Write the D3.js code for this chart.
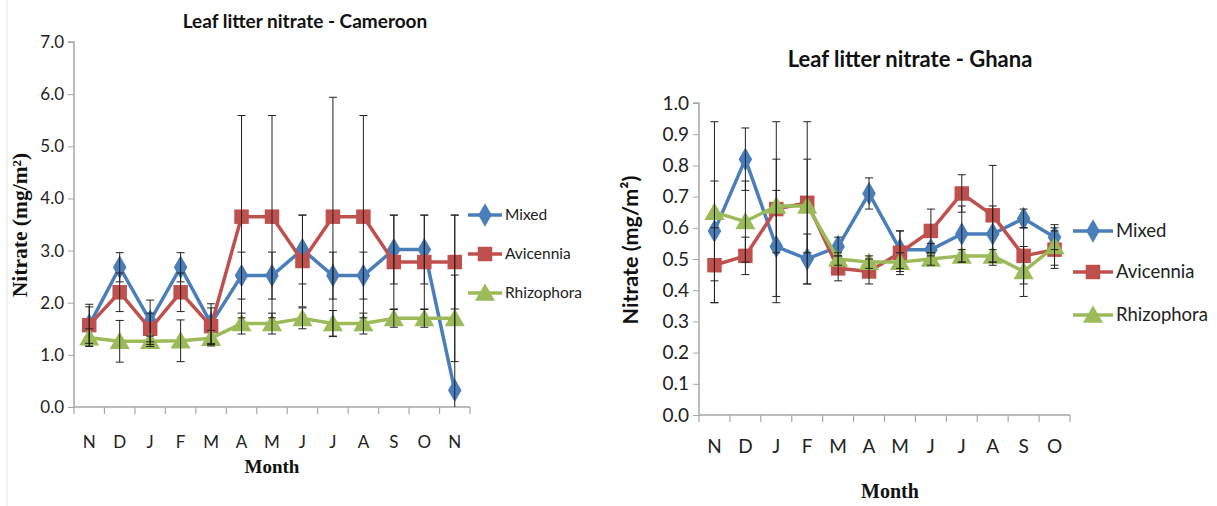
<!DOCTYPE html>
<html><head><meta charset="utf-8">
<script src="https://cdn.jsdelivr.net/npm/d3@7"></script>
<style>body{margin:0;background:#fff}svg{display:block}</style>
</head><body>
<script>
// ---- Data ----
const monthsCam = ["N","D","J","F","M","A","M","J","J","A","S","O","N"];
const camMixed      = [1.57,2.68,1.65,2.68,1.60,2.52,2.52,3.02,2.52,2.52,3.02,3.02,0.32];
const camMixedErr   = [0.40,0.28,0.40,0.28,0.38,0.45,0.45,0.66,0.45,0.45,0.66,0.66,3.36];
const camAvicennia  = [1.57,2.20,1.50,2.20,1.55,3.65,3.65,2.80,3.65,3.65,2.78,2.78,2.78];
const camAvicErr    = [0.35,0.37,0.30,0.37,0.35,1.94,1.94,0.88,2.29,1.94,0.90,0.90,0.90];
const camRhizophora = [1.33,1.26,1.26,1.27,1.32,1.60,1.60,1.70,1.60,1.60,1.70,1.70,1.70];
const camRhizErr    = [0.17,0.40,0.10,0.40,0.15,0.20,0.20,0.20,0.25,0.20,0.17,0.17,0.83];
const camTicks = [0,1,2,3,4,5,6,7];

const monthsGha = ["N","D","J","F","M","A","M","J","J","A","S","O"];
const ghaMixed      = [0.59,0.82,0.54,0.50,0.54,0.71,0.53,0.53,0.58,0.58,0.63,0.57];
const ghaMixedErr   = [0.16,0.10,0.18,0.08,0.03,0.05,0.06,0.02,0.09,0.09,0.03,0.04];
const ghaAvicennia  = [0.48,0.51,0.66,0.68,0.47,0.46,0.52,0.59,0.71,0.64,0.51,0.53];
const ghaAvicErr    = [0.12,0.06,0.28,0.26,0.04,0.04,0.07,0.07,0.06,0.16,0.09,0.06];
const ghaRhizophora = [0.65,0.62,0.67,0.67,0.50,0.49,0.49,0.50,0.51,0.51,0.46,0.54];
const ghaRhizErr    = [0.29,0.13,0.15,0.15,0.02,0.02,0.03,0.02,0.02,0.02,0.08,0.06];
const ghaTicks = [0,0.1,0.2,0.3,0.4,0.5,0.6,0.7,0.8,0.9,1.0];

const seriesNames = ["Mixed","Avicennia","Rhizophora"];
const colors = ["#4a7ebb","#c0504d","#9bbb59"];
const shapes = [d3.symbolDiamond, d3.symbolSquare, d3.symbolTriangle];
const symSizes = [160, 210, 175];

const W = 1217, H = 506;
const svg = d3.select("body").append("svg").attr("width", W).attr("height", H);

function chart(cfg) {
  const g = svg.append("g");
  const x = d3.scaleBand().domain(d3.range(cfg.cats.length)).range(cfg.xr).padding(0);
  const y = d3.scaleLinear().domain(cfg.yd).range(cfg.yr);

  // axes
  const yAxis = d3.axisLeft(y).tickValues(cfg.ticks).tickSize(6).tickFormat(d3.format(cfg.fmt));
  const ya = g.append("g").attr("transform", `translate(${cfg.xr[0]},0)`).call(yAxis);
  ya.select(".domain").attr("stroke", "#a6a6a6").attr("stroke-width", 1.5).attr("d", `M-6,${cfg.yr[1]}H0V${cfg.yr[0]}`);
  ya.selectAll(".tick line").attr("stroke", "#a6a6a6");
  ya.selectAll("text").attr("font-family", "Lato, 'Open Sans', sans-serif").attr("font-size", cfg.fs).attr("fill", "#222").attr("x", -10);

  const xa = g.append("g").attr("transform", `translate(0,${cfg.yr[0]})`);
  xa.append("line").attr("x1", cfg.xr[0]).attr("x2", cfg.xr[1]).attr("stroke", "#a6a6a6").attr("stroke-width", 1.5);
  const bounds = d3.range(cfg.cats.length + 1).map(i => i < cfg.cats.length ? x(i) : cfg.xr[1]);
  xa.selectAll("line.tk").data(bounds).join("line").attr("class","tk")
    .attr("x1", d => d).attr("x2", d => d).attr("y1", 0).attr("y2", 7).attr("stroke", "#a6a6a6").attr("stroke-width", 1.2);
  xa.selectAll("text").data(cfg.cats).join("text")
    .attr("x", (d, i) => x(i) + x.bandwidth() / 2).attr("y", cfg.xlabY - cfg.yr[0])
    .attr("text-anchor", "middle").attr("font-family", "Lato, 'Open Sans', sans-serif")
    .attr("font-size", cfg.fs).attr("fill", "#222").text(d => d);

  // lines + markers
  cfg.series.forEach((s, k) => {
    const line = d3.line().x((d, i) => x(i) + x.bandwidth() / 2).y(d => y(d));
    g.append("path").datum(s.v).attr("fill", "none").attr("stroke", colors[k])
      .attr("stroke-width", 3.5).attr("stroke-linejoin", "round").attr("d", line);
    g.selectAll(null).data(s.v).join("path")
      .attr("transform", (d, i) => `translate(${x(i) + x.bandwidth() / 2},${y(d) + (k === 2 ? 2 : 0)})`)
      .attr("d", d3.symbol().type(shapes[k]).size(symSizes[k]))
      .attr("fill", colors[k]);
  });
  // error bars
  cfg.series.forEach((s, k) => {
    s.v.forEach((v, i) => {
      const cx = x(i) + x.bandwidth() / 2;
      const hi = v + s.e[i], lo = Math.max(cfg.yd[0], v - s.e[i]);
      g.append("line").attr("x1", cx).attr("x2", cx).attr("y1", y(hi)).attr("y2", y(lo))
        .attr("stroke", "#222").attr("stroke-width", 1);
      g.append("line").attr("x1", cx - 4).attr("x2", cx + 4).attr("y1", y(hi)).attr("y2", y(hi))
        .attr("stroke", "#222").attr("stroke-width", 1);
      if (v - s.e[i] > cfg.yd[0])
        g.append("line").attr("x1", cx - 4).attr("x2", cx + 4).attr("y1", y(lo)).attr("y2", y(lo))
          .attr("stroke", "#222").attr("stroke-width", 1);
    });
  });

  // legend
  seriesNames.forEach((n, k) => {
    const ly = cfg.legY[k];
    const lg = g.append("g");
    lg.append("line").attr("x1", cfg.legX[0]).attr("x2", cfg.legX[1]).attr("y1", ly).attr("y2", ly)
      .attr("stroke", colors[k]).attr("stroke-width", 3.5);
    lg.append("path").attr("transform", `translate(${(cfg.legX[0] + cfg.legX[1]) / 2},${ly + (k === 2 ? 2 : 0)})`)
      .attr("d", d3.symbol().type(shapes[k]).size(symSizes[k])).attr("fill", colors[k]);
    lg.append("text").attr("x", cfg.legX[1] + 3).attr("y", ly).attr("dy", "0.35em")
      .attr("font-family", "Lato, 'Open Sans', sans-serif").attr("font-size", cfg.legFs).attr("fill", "#222").text(n);
  });

  // title
  g.append("text").attr("x", cfg.title[0]).attr("y", cfg.title[1]).attr("text-anchor", "middle")
    .attr("font-family", "Lato, sans-serif").attr("font-weight", "bold").attr("font-size", cfg.title[3])
    .attr("fill", "#111").text(cfg.title[2]);
  // x title
  g.append("text").attr("x", cfg.xt[0]).attr("y", cfg.xt[1]).attr("text-anchor", "middle")
    .attr("font-family", "'Liberation Serif', 'DejaVu Serif', serif").attr("font-weight", "bold")
    .attr("font-size", cfg.xt[2]).attr("fill", "#111").text("Month");
  // y title
  g.append("text").attr("transform", `translate(${cfg.yt[0]},${cfg.yt[1]}) rotate(-90)`).attr("text-anchor", "middle")
    .attr("font-family", cfg.ytFont).attr("font-weight", "bold")
    .attr("font-size", cfg.yt[2]).attr("fill", "#111").text("Nitrate (mg/m²)");
}

// faint frame line of left chart
svg.append("line").attr("x1", 7).attr("x2", 7).attr("y1", 0).attr("y2", 506).attr("stroke", "#e6e6e6");

chart({
  cats: monthsCam, xr: [74, 470], yr: [407, 42], yd: [0, 7], ticks: camTicks, fmt: ".1f", fs: 17,
  xlabY: 448,
  series: [{v: camMixed, e: camMixedErr}, {v: camAvicennia, e: camAvicErr}, {v: camRhizophora, e: camRhizErr}],
  legX: [468, 502], legY: [215, 254, 293], legFs: 15.5,
  title: [305, 28, "Leaf litter nitrate - Cameroon", 19],
  xt: [272, 473, 19],
  yt: [27, 225, 21.5], ytFont: "'Liberation Serif', 'DejaVu Serif', serif"
});

chart({
  cats: monthsGha, xr: [699, 1070], yr: [415, 103], yd: [0, 1], ticks: ghaTicks, fmt: ".1f", fs: 19,
  xlabY: 453,
  series: [{v: ghaMixed, e: ghaMixedErr}, {v: ghaAvicennia, e: ghaAvicErr}, {v: ghaRhizophora, e: ghaRhizErr}],
  legX: [1073, 1113], legY: [231, 272, 315], legFs: 18.5,
  title: [910, 67, "Leaf litter nitrate - Ghana", 22],
  xt: [890, 498, 20],
  yt: [638, 250, 21.5], ytFont: "Lato, 'Open Sans', sans-serif"
});
</script>
</body></html>
